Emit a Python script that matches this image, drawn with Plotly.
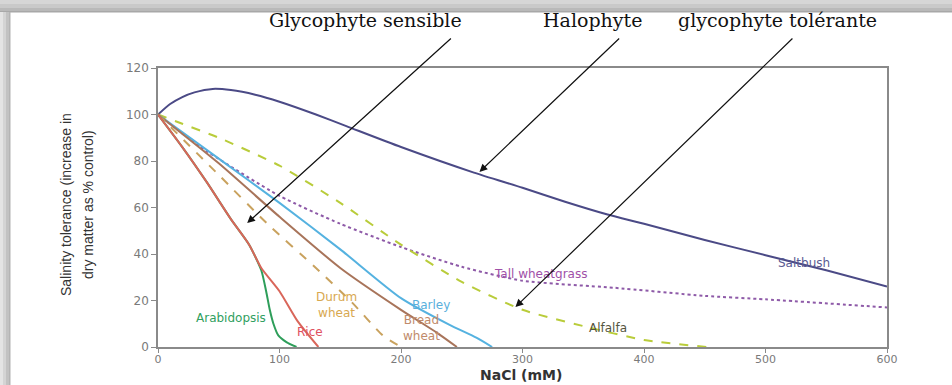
import plotly.graph_objects as go

# ---------------- data ----------------
x_ticks = [0, 100, 200, 300, 400, 500, 600]
y_ticks = [0, 20, 40, 60, 80, 100, 120]

saltbush_x = [0, 10, 20, 30, 45, 60, 80, 100, 130, 155, 200, 260, 300, 335, 370, 400, 450, 500, 550, 600]
saltbush_y = [100, 104.5, 107.5, 109.5, 111, 110.5, 108.5, 105.5, 100, 95, 86, 75, 68.5, 62.5, 57, 53, 46, 39.5, 33, 26]

tall_x = [0, 35, 100, 150, 200, 250, 300, 375, 450, 500, 600]
tall_y = [100, 86, 65, 53, 43, 34.5, 28.5, 25.5, 22, 20.5, 17]

alfalfa_x = [0, 20, 50, 100, 150, 200, 250, 300, 350, 400, 452]
alfalfa_y = [100, 96, 90, 78, 62, 44, 28, 16, 9, 3, 0]

barley_x = [0, 50, 100, 150, 200, 240, 262, 275]
barley_y = [100, 81, 62, 42, 21, 9.5, 4, 0]

bread_x = [0, 50, 100, 150, 200, 230, 246]
bread_y = [100, 79, 56, 34, 16, 6, 0]

durum_x = [0, 50, 90, 130, 160, 185, 200]
durum_y = [100, 74, 53, 34, 19, 5, 0]

rice_x = [0, 20, 40, 60, 75, 85, 100, 115, 132]
rice_y = [100, 86, 71, 55, 44, 34, 24, 11, 0]

arab_x = [0, 20, 40, 60, 75, 85, 89, 92, 95, 99, 106, 114]
arab_y = [100, 86, 71, 55, 44, 33, 24, 16, 10, 5, 2, 0]

series = [
    ("Saltbush", saltbush_x, saltbush_y, "#4b4a86", "solid"),
    ("Tall wheatgrass", tall_x, tall_y, "#8e5aa8", "dot"),
    ("Alfalfa", alfalfa_x, alfalfa_y, "#b9cc3a", "dash"),
    ("Barley", barley_x, barley_y, "#55b2e0", "solid"),
    ("Bread wheat", bread_x, bread_y, "#a8745a", "solid"),
    ("Durum wheat", durum_x, durum_y, "#c9a25e", "dash"),
    ("Arabidopsis", arab_x, arab_y, "#2e9e5a", "solid"),
    ("Rice", rice_x, rice_y, "#d9665a", "solid"),
]

# curve labels: text, x, y, colour
curve_labels = [
    ("Saltbush", 532, 36, "#5a5a92"),
    ("Tall wheatgrass", 315, 31.4, "#a050a8"),
    ("Alfalfa", 370, 8.2, "#555540"),
    ("Barley", 225, 18, "#5ab0dc"),
    ("Bread<br>wheat", 217, 8.2, "#c08a6a"),
    ("Durum<br>wheat", 147, 18, "#d8a850"),
    ("Rice", 125, 6.5, "#e05060"),
    ("Arabidopsis", 60, 12.5, "#30a060"),
]

# top captions and their arrows (tail x,y -> tip x,y in data units)
captions = [("Glycophyte sensible", 0.2853), ("Halophyte", 0.5967), ("glycophyte tolérante", 0.8498)]
arrows = [
    (242.3, 133.3, 73.4, 53.3),
    (380.8, 133.3, 264.6, 75.3),
    (523.4, 133.3, 294.2, 17.2),
]

# ---------------- figure ----------------
W, H = 952, 385
L, R, T, B = 158, 65, 68, 38
pw, ph = W - L - R, H - T - B


def px_to_paper_x(px):
    return (px - L) / pw


def py_to_paper_y(py):
    return (H - B - py) / ph


fig = go.Figure()
for name, xs, ys, col, dash in series:
    fig.add_trace(go.Scatter(x=xs, y=ys, mode="lines", name=name,
                             line=dict(color=col, width=2, dash=dash, shape="spline", smoothing=0.6),
                             showlegend=False, hoverinfo="skip"))

annotations = []
for txt, lx, ly, col in curve_labels:
    annotations.append(dict(x=lx, y=ly, xref="x", yref="y", text=txt, showarrow=False,
                            font=dict(family="DejaVu Sans", size=12, color=col),
                            xanchor="center", yanchor="middle"))

for txt, px in captions:
    annotations.append(dict(x=px, y=py_to_paper_y(20), xref="paper", yref="paper", text=txt,
                            showarrow=False, font=dict(family="DejaVu Serif", size=19, color="#111"),
                            xanchor="center", yanchor="middle"))

for tx, ty, hx, hy in arrows:
    annotations.append(dict(x=hx, y=hy, ax=tx, ay=ty, xref="x", yref="y", axref="x", ayref="y",
                            text="", showarrow=True, arrowhead=2, arrowsize=1.3, arrowwidth=1.2,
                            arrowcolor="#111"))

# axis titles
ytitle_font = dict(family="Liberation Sans Narrow, Liberation Sans, sans-serif", size=14, color="#333")
annotations.append(dict(x=px_to_paper_x(66), y=py_to_paper_y(205), xref="paper", yref="paper",
                        text="Salinity tolerance (increase in", textangle=-90, showarrow=False,
                        font=ytitle_font, xanchor="center", yanchor="middle"))
annotations.append(dict(x=px_to_paper_x(88), y=py_to_paper_y(205), xref="paper", yref="paper",
                        text="dry matter as % control)", textangle=-90, showarrow=False,
                        font=ytitle_font, xanchor="center", yanchor="middle"))
annotations.append(dict(x=px_to_paper_x(521), y=py_to_paper_y(385), xref="paper", yref="paper",
                        text="<b>NaCl (mM)</b>", showarrow=False,
                        font=dict(family="DejaVu Sans", size=14, color="#333"),
                        xanchor="center", yanchor="bottom"))

# picture frame shading (top and left grey bands)
shapes = []
top_bands = [(0, 4, "#d6d6d6"), (4, 8, "#c9c9c9"), (8, 11, "#b9b9b9"), (11, 12.5, "#a8a8a8")]
for y0, y1, c in top_bands:
    shapes.append(dict(type="rect", xref="paper", yref="paper", x0=px_to_paper_x(0), x1=px_to_paper_x(W),
                       y0=py_to_paper_y(y1), y1=py_to_paper_y(y0), fillcolor=c, line=dict(width=0)))
left_bands = [(0, 3, "#e4e4e4"), (3, 6, "#d4d4d4"), (6, 9, "#c2c2c2"), (9, 10.5, "#b4b4b4")]
for x0, x1, c in left_bands:
    shapes.append(dict(type="rect", xref="paper", yref="paper", x0=px_to_paper_x(x0), x1=px_to_paper_x(x1),
                       y0=py_to_paper_y(H), y1=py_to_paper_y(12), fillcolor=c, line=dict(width=0)))

axis_common = dict(showgrid=False, zeroline=False, showline=True, linecolor="#8a8a8a", linewidth=1.5,
                   mirror=True, ticks="outside", tickcolor="#8a8a8a", tickwidth=1.2)

fig.update_layout(
    width=W, height=H,
    margin=dict(l=L, r=R, t=T, b=B, pad=0),
    paper_bgcolor="white", plot_bgcolor="white",
    xaxis=dict(range=[0, 600], tickvals=x_ticks, ticktext=[str(v) for v in x_ticks], ticklen=4,
               ticklabelstandoff=-3, tickfont=dict(family="DejaVu Sans", size=11, color="#7a7a7a"),
               **axis_common),
    yaxis=dict(range=[0, 120], tickvals=y_ticks, ticktext=[str(v) for v in y_ticks], ticklen=5,
               tickfont=dict(family="DejaVu Sans", size=12, color="#7a7a7a"), **axis_common),
    annotations=annotations,
    shapes=shapes,
)

fig.write_html("out.html")
